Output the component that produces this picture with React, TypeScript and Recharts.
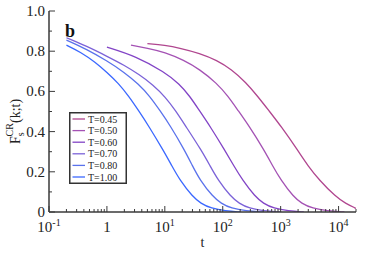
import { LineChart, Line, XAxis, YAxis, Legend } from 'recharts';

// series names + colours (hot -> cold)
const temperatures = ['T=0.45', 'T=0.50', 'T=0.60', 'T=0.70', 'T=0.80', 'T=1.00'];
const colors = ['#b0468f', '#a452b4', '#8244c6', '#7b62d8', '#5a72ec', '#3b68ff'];

// t and F values, one pair of arrays per temperature
const tT045 = [5, 10, 18.6, 39.8, 79.4, 141, 251, 398, 631, 1007, 1963, 2950, 4645, 8913, 13180, 20000];
const fT045 = [0.838, 0.83, 0.815, 0.79, 0.755, 0.71, 0.645, 0.577, 0.503, 0.428, 0.308, 0.23, 0.159, 0.076, 0.043, 0.018];

const tT050 = [2.6, 5, 10, 21.4, 39.8, 79.4, 123, 186, 284, 518, 724, 1007, 1660, 2290, 3550, 6310, 12600];
const fT050 = [0.83, 0.815, 0.795, 0.755, 0.71, 0.64, 0.577, 0.503, 0.428, 0.308, 0.23, 0.159, 0.076, 0.043, 0.018, 0.005, 0];

const tT060 = [1, 3.16, 10, 17.8, 26.9, 39.8, 60, 108, 155, 219, 363, 501, 759, 1350, 2510];
const fT060 = [0.82, 0.775, 0.695, 0.637, 0.577, 0.503, 0.428, 0.308, 0.23, 0.159, 0.076, 0.043, 0.018, 0.005, 0];

const tT070 = [0.2, 0.447, 1, 2, 3.55, 6.31, 10.2, 15.5, 22.8, 42.6, 60.3, 82.6, 138, 191, 288, 501, 1000];
const fT070 = [0.867, 0.825, 0.775, 0.73, 0.685, 0.632, 0.572, 0.503, 0.428, 0.308, 0.23, 0.159, 0.076, 0.043, 0.018, 0.005, 0];

const tT080 = [0.2, 0.447, 1, 2, 3.55, 5.47, 8.32, 12.5, 21.9, 29.6, 40.3, 67.6, 93.3, 141, 251, 500];
const fT080 = [0.855, 0.81, 0.752, 0.695, 0.635, 0.577, 0.503, 0.428, 0.308, 0.233, 0.159, 0.076, 0.043, 0.018, 0.005, 0];

const tT100 = [0.2, 0.355, 0.631, 1, 1.585, 2.37, 3.55, 5.26, 9.35, 13.2, 18.1, 30.2, 41.7, 63.1, 112, 200];
const fT100 = [0.83, 0.795, 0.745, 0.695, 0.64, 0.577, 0.503, 0.428, 0.308, 0.23, 0.159, 0.076, 0.043, 0.018, 0.005, 0];

const seriesT = [tT045, tT050, tT060, tT070, tT080, tT100];
const seriesF = [fT045, fT050, fT060, fT070, fT080, fT100];

const xMajorTicks = [0.1, 1, 10, 100, 1000, 10000];
const xMinorTicks = [0.2, 0.3, 0.4, 0.5, 0.6, 0.7, 0.8, 0.9, 2, 3, 4, 5, 6, 7, 8, 9, 20, 30, 40, 50, 60, 70, 80, 90, 200, 300, 400, 500, 600, 700, 800, 900, 2000, 3000, 4000, 5000, 6000, 7000, 8000, 9000, 20000];
const yMajorTicks = [0, 0.2, 0.4, 0.6, 0.8, 1.0];
const yMinorTicks = [0.1, 0.3, 0.5, 0.7, 0.9];

const FONT = '"Liberation Serif", "Times New Roman", Times, serif';
const AXIS = '#3a3a3a';
const MAJOR = 6;
const MINOR = 3;
const TICK_FS = 15;

const xTicks = [...xMajorTicks, ...xMinorTicks];
const yTicks = [...yMajorTicks, ...yMinorTicks];

const isMajorX = (v: number) => xMajorTicks.some((m) => Math.abs(m - v) / m < 1e-6);
const isMajorY = (v: number) => yMajorTicks.some((m) => Math.abs(m - v) < 1e-6);

function xLabel(v: number) {
  const exp = Math.round(Math.log10(v));
  if (exp === 0) return <tspan>1</tspan>;
  return (
    <>
      <tspan>10</tspan>
      <tspan dy={-6} fontSize={10}>{exp}</tspan>
    </>
  );
}

const textStyle = { fontFamily: FONT };

const BottomTick = (props: any) => {
  const { x, y, payload } = props;
  const major = isMajorX(payload.value);
  return (
    <g>
      <line x1={x} y1={y} x2={x} y2={y - (major ? MAJOR : MINOR)} stroke={AXIS} strokeWidth={1} />
      {major && (
        <text x={x} y={y + 20} textAnchor="middle" style={textStyle} fontSize={TICK_FS} fill="#222">
          {xLabel(payload.value)}
        </text>
      )}
    </g>
  );
};

const TopTick = (props: any) => {
  const { x, y, payload } = props;
  const major = isMajorX(payload.value);
  return <line x1={x} y1={y} x2={x} y2={y + (major ? MAJOR : MINOR)} stroke={AXIS} strokeWidth={1} />;
};

const LeftTick = (props: any) => {
  const { x, y, payload } = props;
  const v = payload.value;
  const major = isMajorY(v);
  return (
    <g>
      <line x1={x} y1={y} x2={x + (major ? MAJOR : MINOR)} y2={y} stroke={AXIS} strokeWidth={1} />
      {major && (
        <text x={x - 4} y={y + 5} textAnchor="end" style={textStyle} fontSize={TICK_FS} fill="#222">
          {v === 0 ? '0' : v.toFixed(1)}
        </text>
      )}
    </g>
  );
};

const RightTick = (props: any) => {
  const { x, y, payload } = props;
  const major = isMajorY(payload.value);
  return <line x1={x} y1={y} x2={x - (major ? MAJOR : MINOR)} y2={y} stroke={AXIS} strokeWidth={1} />;
};

const YTitle = (props: any) => {
  const { viewBox } = props;
  const cx = 20;
  const cy = viewBox.y + viewBox.height / 2 + 10;
  return (
    <text x={cx} y={cy} transform={`rotate(-90, ${cx}, ${cy})`} textAnchor="middle" style={textStyle} fontSize={14} fill="#222">
      <tspan>F</tspan>
      <tspan dy={4} fontSize={10}>s</tspan>
      <tspan dx={-4} dy={-11} fontSize={10}>CR</tspan>
      <tspan dy={7}>(k;t)</tspan>
    </text>
  );
};

const XTitle = (props: any) => {
  const { viewBox } = props;
  return (
    <text x={viewBox.x + viewBox.width / 2} y={viewBox.y + 35} textAnchor="middle" style={textStyle} fontSize={14} fill="#222">
      t
    </text>
  );
};

// legend drawn as svg so the swatches stay crisp
const LegendBox = ({ payload }: any) => (
  <svg width={58} height={72} style={{ display: 'block' }}>
    <rect x={0.75} y={0.75} width={56.5} height={70.5} fill="#fff" stroke="#333" strokeWidth={1.5} />
    {(payload || []).map((p: any, i: number) => {
      const cy = 7 + i * 11.6;
      return (
        <g key={p.value}>
          <line x1={3.5} x2={16} y1={cy} y2={cy} stroke={p.color} strokeWidth={1.3} />
          <text x={19} y={cy + 3.5} style={textStyle} fontSize={10} fill="#222">
            {p.value}
          </text>
        </g>
      );
    })}
  </svg>
);

export default function App() {
  return (
    <div style={{ position: 'absolute', left: 0, top: 0, width: 374, height: 255, background: '#fff' }}>
      <LineChart width={374} height={255} margin={{ top: 11, right: 18, bottom: 0, left: 0 }}>
        <XAxis
          dataKey="t"
          type="number"
          scale="log"
          domain={[0.1, 20000]}
          allowDataOverflow
          ticks={xTicks}
          interval={0}
          height={43}
          tickLine={false}
          tickSize={0}
          tickMargin={0}
          tick={<BottomTick />}
          axisLine={{ stroke: AXIS, strokeWidth: 1.5 }}
          label={<XTitle />}
        />
        <XAxis
          xAxisId="top"
          orientation="top"
          type="number"
          scale="log"
          domain={[0.1, 20000]}
          allowDataOverflow
          ticks={xTicks}
          interval={0}
          height={0}
          tickLine={false}
          tickSize={0}
          tickMargin={0}
          tick={<TopTick />}
          axisLine={{ stroke: AXIS, strokeWidth: 1.5 }}
        />
        <YAxis
          type="number"
          domain={[0, 1]}
          allowDataOverflow
          ticks={yTicks}
          interval={0}
          width={49}
          tickLine={false}
          tickSize={0}
          tickMargin={0}
          tick={<LeftTick />}
          axisLine={{ stroke: AXIS, strokeWidth: 1.5 }}
          label={<YTitle />}
        />
        <YAxis
          yAxisId="right"
          orientation="right"
          type="number"
          domain={[0, 1]}
          allowDataOverflow
          ticks={yTicks}
          interval={0}
          width={0}
          tickLine={false}
          tickSize={0}
          tickMargin={0}
          tick={<RightTick />}
          axisLine={{ stroke: AXIS, strokeWidth: 1.5 }}
        />
        {seriesT.map((ts, i) => (
          <Line
            key={temperatures[i]}
            name={temperatures[i]}
            data={ts.map((t, j) => ({ t, F: seriesF[i][j] }))}
            dataKey="F"
            type="basis"
            stroke={colors[i]}
            strokeWidth={1.3}
            dot={false}
            isAnimationActive={false}
          />
        ))}
        <Legend
          layout="vertical"
          align="center"
          verticalAlign="middle"
          wrapperStyle={{ left: 69, top: 112, width: 'auto' }}
          content={<LegendBox />}
        />
      </LineChart>
      <div
        style={{
          position: 'absolute',
          left: 65,
          top: 22,
          fontFamily: FONT,
          fontSize: 18,
          lineHeight: '18px',
          fontWeight: 'bold',
          color: '#111',
        }}
      >
        b
      </div>
    </div>
  );
}
